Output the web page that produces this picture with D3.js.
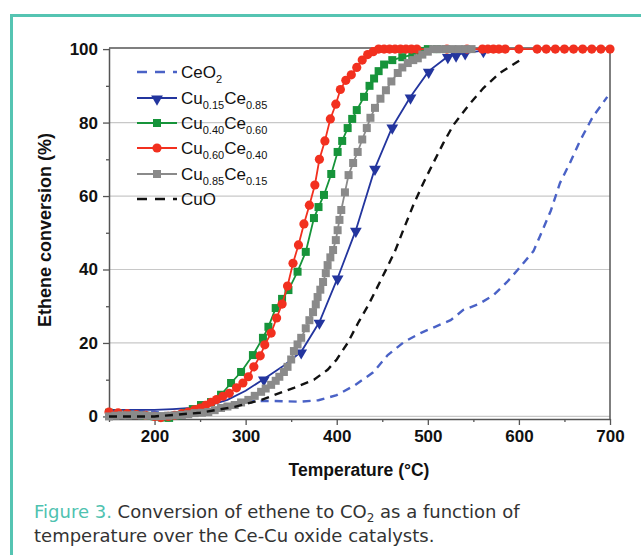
<!DOCTYPE html>
<html>
<head>
<meta charset="utf-8">
<script src="https://cdn.jsdelivr.net/npm/d3@7"></script>
<style>
  body { margin: 0; background: #fff; }
  svg { display: block; }
</style>
</head>
<body>
<div id="chart"></div>
<script>
// ---- data ----
const ceo2T = [150, 170, 200, 230, 250, 265, 280, 300, 330, 360, 380, 400, 420, 440, 456, 474, 492, 508, 525, 539, 556, 572, 587, 599, 616, 623, 635, 645, 656, 667, 681, 697];
const ceo2V = [1.5, 1.5, 1.2, 0.4, 0.6, 2.2, 3.4, 4.2, 4.2, 4.0, 4.4, 5.8, 8.5, 12, 16.7, 20.3, 22.7, 24.4, 26.2, 29, 30.6, 33, 36.6, 40, 45, 49, 56, 63.5, 69, 75, 81.5, 87];

const cu15T = [150, 180, 200, 220, 240, 260, 280, 300, 320, 340, 361, 381, 401, 421, 442, 461, 481, 501, 522, 531, 541, 561];
const cu15V = [1.8, 1.8, 1.8, 2.0, 2.3, 3.0, 4.5, 7.0, 10.2, 13.5, 17.6, 25.7, 37.7, 50.7, 67.6, 78.8, 87, 94, 98, 98.4, 99, 99.6];
const cu15Marks = [320, 361, 381, 401, 421, 442, 461, 481, 501, 522, 531, 541, 561];

const cu40T = [150, 160, 170, 180, 190, 200, 208, 216, 225, 234, 242, 251, 262, 273, 284, 295, 308, 319, 325, 333, 340, 347, 357, 366, 375, 380, 386, 394, 401, 406, 412, 417, 422, 430, 436, 441, 446, 452, 461, 472, 483, 492, 500, 510, 520];
const cu40V = [1.0, 0.8, 0.6, 0.4, 0.2, 0, -0.3, -0.4, 0.3, 1.0, 2.0, 3.1, 3.9, 5.9, 9.1, 12.1, 16.7, 21.4, 24.4, 29.5, 32, 34.4, 39.4, 44.8, 54, 57, 60.3, 66, 72, 75, 78.5, 81, 83.4, 87, 90, 92, 94, 95.8, 97, 97.8, 98.4, 99.5, 100, 100, 100];

const cu60T = [150, 160, 170, 180, 190, 200, 207, 215, 222, 230, 237, 244, 250, 256, 262, 268, 275, 282, 290, 297, 303, 309, 316, 321, 328, 334, 340, 346, 352, 358, 364, 370, 376, 381, 387, 393, 399, 404, 410, 416, 422, 428, 434, 440, 446, 452, 458, 464, 470, 476, 482, 488, 521, 543, 560, 566, 572, 578, 585, 600, 620, 630, 640, 650, 660, 670, 680, 690, 700];
const cu60V = [1.2, 1.0, 0.8, 0.5, 0.3, 0, -0.3, 0, 0.3, 0.8, 1.2, 1.8, 2.3, 3.0, 3.8, 4.6, 5.5, 6.3, 7.8, 9.1, 10.8, 13.5, 16.5, 19.5, 22.7, 26.8, 30.6, 35.5, 41.7, 46.7, 52.4, 57.5, 63, 70, 75, 81, 85, 89, 91.5, 93, 95, 97, 98.5, 99.3, 100, 100, 100, 100, 100, 100, 100, 100, 100, 100, 100, 100, 100, 100, 100, 100, 100, 100, 100, 100, 100, 100, 100, 100, 100];

const cu85T = [150, 157, 164, 171, 178, 186, 193, 200, 208, 215, 222, 230, 237, 244, 252, 259, 266, 273, 280, 288, 295, 303, 310, 317, 322, 328, 333, 337, 342, 346, 350, 353, 357, 361, 366, 370, 374, 377, 379, 382, 385, 388, 390, 393, 396, 399, 401, 403, 405, 409, 413, 418, 423, 428, 433, 437, 442, 448, 454, 460, 467, 472, 478, 484, 489, 494, 500, 506, 513, 520, 527, 534, 541, 548];
const cu85V = [0, 0.2, 0.3, 0.3, 0.4, 0.3, 0.2, 0.1, 0.1, 0.2, 0.3, 0.4, 0.6, 0.9, 1.0, 1.2, 1.7, 2.3, 2.7, 3.1, 3.8, 4.5, 5.6, 6.7, 7.6, 8.6, 9.7, 10.8, 12.1, 13.5, 15.5, 17.8, 19.6, 21.4, 24, 26.2, 28.4, 30.5, 32.5, 34.5, 36.6, 39, 41.2, 43.3, 45.3, 48, 50.7, 53.5, 56.2, 61, 65.7, 69, 72, 75.4, 78.5, 81.3, 84, 86.5, 88.8, 91.2, 93.5, 95, 96.2, 97, 97.5, 98.5, 99.3, 100, 100, 100, 100, 100, 100, 100];

const cuoT = [150, 200, 250, 288, 317, 353, 375, 390, 400, 412, 424, 434, 443, 454, 464, 473, 484, 495, 506, 517, 528, 545, 561, 579, 598, 605];
const cuoV = [0, 0, 1.0, 2.6, 4.5, 7.8, 10, 12.7, 15.5, 20, 25.7, 30, 34.4, 39.9, 45, 50.7, 57.5, 63.5, 69, 74.4, 79.3, 84.8, 89.4, 93.5, 96.5, 97.5];

const xTicks = [200, 300, 400, 500, 600, 700];
const yTicks = [0, 20, 40, 60, 80, 100];

const zip = (t, v) => t.map((d, i) => ({t: d, v: v[i]}));

const W = 641, H = 555;
const svg = d3.select("#chart").append("svg")
    .attr("width", W).attr("height", H)
    .style("font-family", "'Liberation Sans', Arial, sans-serif");

// teal frame
svg.append("path")
    .attr("d", "M11.5,555 V15.5 H641")
    .attr("fill", "none")
    .attr("stroke", "#55c4b2")
    .attr("stroke-width", 3);

const x = d3.scaleLinear().domain([150, 700]).range([109, 610]);
const y = d3.scaleLinear().domain([-0.7, 100.3]).range([419, 48]);

// grid lines
svg.append("g")
  .selectAll("line")
  .data([0, 20, 40, 60, 80])
  .join("line")
    .attr("x1", x(150)).attr("x2", x(700))
    .attr("y1", d => y(d)).attr("y2", d => y(d))
    .attr("stroke", "#c8c8c8")
    .attr("stroke-width", 1.2);

// axes
const xAxis = svg.append("g")
    .attr("transform", `translate(0,${y(-0.7)})`)
    .call(d3.axisBottom(x).tickValues(xTicks).tickSize(6).tickPadding(5).tickSizeOuter(0));
const xMinor = svg.append("g")
    .attr("transform", `translate(0,${y(-0.7)})`)
    .call(d3.axisBottom(x).tickValues([150, 250, 350, 450, 550, 650]).tickSize(3).tickFormat("").tickSizeOuter(0));
const yAxis = svg.append("g")
    .attr("transform", `translate(${x(150)},0)`)
    .call(d3.axisLeft(y).tickValues(yTicks).tickSize(6).tickPadding(5).tickSizeOuter(0));
const yMinor = svg.append("g")
    .attr("transform", `translate(${x(150)},0)`)
    .call(d3.axisLeft(y).tickValues([10, 30, 50, 70, 90]).tickSize(3).tickFormat("").tickSizeOuter(0));

[xAxis, xMinor, yAxis, yMinor].forEach(g => {
  g.select(".domain").attr("stroke", "#555").attr("stroke-width", 1.5);
  g.selectAll(".tick line").attr("stroke", "#555").attr("stroke-width", 1.3);
  g.selectAll("text")
    .attr("font-family", "'Liberation Sans', Arial, sans-serif")
    .attr("font-size", 17)
    .attr("font-weight", "bold")
    .attr("fill", "#111");
});
xMinor.select(".domain").remove();
yMinor.select(".domain").remove();

// top and right frame
svg.append("path")
    .attr("d", `M${x(150)},${y(100.3)} H${x(700)} V${y(-0.7)}`)
    .attr("fill", "none")
    .attr("stroke", "#555")
    .attr("stroke-width", 1.5);

const line = d3.line().x(d => x(d.t)).y(d => y(d.v)).curve(d3.curveLinear);

const plot = svg.append("g");

// CeO2
plot.append("path")
    .datum(zip(ceo2T, ceo2V))
    .attr("d", line)
    .attr("fill", "none")
    .attr("stroke", "#4a62c6")
    .attr("stroke-width", 2.4)
    .attr("stroke-dasharray", "8,6");

// Cu0.15Ce0.85
plot.append("path")
    .datum(zip(cu15T, cu15V))
    .attr("d", line)
    .attr("fill", "none")
    .attr("stroke", "#23359e")
    .attr("stroke-width", 1.8);
const tri = d3.symbol().type(d3.symbolTriangle).size(60);
plot.append("g")
  .selectAll("path")
  .data(zip(cu15T, cu15V).filter(d => cu15Marks.includes(d.t)))
  .join("path")
    .attr("d", tri)
    .attr("transform", d => `translate(${x(d.t)},${y(d.v) + 1}) rotate(180)`)
    .attr("fill", "#23359e");

// Cu0.40Ce0.60
plot.append("path")
    .datum(zip(cu40T, cu40V))
    .attr("d", line)
    .attr("fill", "none")
    .attr("stroke", "#16943a")
    .attr("stroke-width", 1.8);
plot.append("g")
  .selectAll("rect")
  .data(zip(cu40T, cu40V))
  .join("rect")
    .attr("x", d => x(d.t) - 4).attr("y", d => y(d.v) - 4)
    .attr("width", 8).attr("height", 8)
    .attr("fill", "#16943a");

// Cu0.60Ce0.40
plot.append("path")
    .datum(zip(cu60T, cu60V))
    .attr("d", line)
    .attr("fill", "none")
    .attr("stroke", "#f2301f")
    .attr("stroke-width", 1.8);
plot.append("g")
  .selectAll("circle")
  .data(zip(cu60T, cu60V))
  .join("circle")
    .attr("cx", d => x(d.t)).attr("cy", d => y(d.v))
    .attr("r", 4.6)
    .attr("fill", "#f2301f");

// Cu0.85Ce0.15
plot.append("path")
    .datum(zip(cu85T, cu85V))
    .attr("d", line)
    .attr("fill", "none")
    .attr("stroke", "#8a8a8a")
    .attr("stroke-width", 1.8);
plot.append("g")
  .selectAll("rect")
  .data(zip(cu85T, cu85V))
  .join("rect")
    .attr("x", d => x(d.t) - 4).attr("y", d => y(d.v) - 4)
    .attr("width", 8).attr("height", 8)
    .attr("fill", "#8a8a8a");

// CuO
plot.append("path")
    .datum(zip(cuoT, cuoV))
    .attr("d", line)
    .attr("fill", "none")
    .attr("stroke", "#111")
    .attr("stroke-width", 2.4)
    .attr("stroke-dasharray", "8,6");

// legend
const legendItems = [
  {parts: [["CeO", 0], ["2", 1]], color: "#4a62c6", dash: "10,8", mark: null},
  {parts: [["Cu", 0], ["0.15", 1], ["Ce", 0], ["0.85", 1]], color: "#23359e", dash: null, mark: "tri"},
  {parts: [["Cu", 0], ["0.40", 1], ["Ce", 0], ["0.60", 1]], color: "#16943a", dash: null, mark: "sq"},
  {parts: [["Cu", 0], ["0.60", 1], ["Ce", 0], ["0.40", 1]], color: "#f2301f", dash: null, mark: "circ"},
  {parts: [["Cu", 0], ["0.85", 1], ["Ce", 0], ["0.15", 1]], color: "#8a8a8a", dash: null, mark: "sq"},
  {parts: [["CuO", 0]], color: "#111", dash: "10,8", mark: null}
];
const legendY = [72, 98, 123, 148, 174, 199];
const lg = svg.append("g");
legendItems.forEach((it, i) => {
  const ly = legendY[i];
  const row = lg.append("g").attr("transform", `translate(0,${ly})`);
  row.append("line")
      .attr("x1", 137).attr("x2", 177).attr("y1", 0).attr("y2", 0)
      .attr("stroke", it.color)
      .attr("stroke-width", it.dash ? 2.4 : 1.8)
      .attr("stroke-dasharray", it.dash);
  if (it.mark === "tri") {
    row.append("path").attr("d", tri).attr("transform", "translate(157,1) rotate(180)").attr("fill", it.color);
  } else if (it.mark === "sq") {
    row.append("rect").attr("x", 153).attr("y", -4).attr("width", 8).attr("height", 8).attr("fill", it.color);
  } else if (it.mark === "circ") {
    row.append("circle").attr("cx", 157).attr("cy", 0).attr("r", 4.6).attr("fill", it.color);
  }
  const txt = row.append("text")
      .attr("x", 181).attr("y", 6)
      .attr("font-size", 17)
      .attr("fill", "#111");
  it.parts.forEach(([s, sub]) => {
    txt.append("tspan")
        .attr("font-size", sub ? 11 : 17)
        .attr("dy", sub ? 5 : (s === it.parts[0][0] ? 0 : -5))
        .text(s);
  });
});

// axis titles
svg.append("text")
    .attr("x", 359).attr("y", 476)
    .attr("text-anchor", "middle")
    .attr("font-size", 17.5)
    .attr("font-weight", "bold")
    .attr("fill", "#111")
    .text("Temperature (°C)");
svg.append("text")
    .attr("transform", "translate(51,230) rotate(-90)")
    .attr("text-anchor", "middle")
    .attr("font-size", 18)
    .attr("font-weight", "bold")
    .attr("fill", "#111")
    .text("Ethene conversion  (%)");

// caption
const cap = svg.append("g").style("font-family", "'DejaVu Sans', sans-serif").attr("font-size", 18);
const c1 = cap.append("text").attr("x", 34).attr("y", 518).attr("fill", "#333");
c1.append("tspan").attr("fill", "#4fc2b0").text("Figure 3.");
c1.append("tspan").text(" Conversion of ethene to CO");
c1.append("tspan").attr("font-size", 12).attr("dy", 4).text("2");
c1.append("tspan").attr("dy", -4).text(" as a function of");
cap.append("text").attr("x", 34).attr("y", 542).attr("fill", "#333")
    .text("temperature over the Ce-Cu oxide catalysts.");
</script>
</body>
</html>
